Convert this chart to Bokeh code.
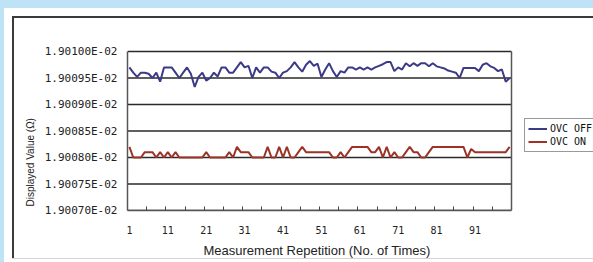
from bokeh.plotting import figure
from bokeh.models import (Range1d, FixedTicker, CustomJSTickFormatter, Legend, LegendItem,
                          Title, GlobalInlineStyleSheet, InlineStyleSheet)
from bokeh.embed import file_html
from bokeh.resources import INLINE

# ---------------- data ----------------
repetition = list(range(1, 101))

ovc_off = [
    1.900970e-02, 1.900960e-02, 1.900952e-02, 1.900960e-02, 1.900960e-02,
    1.900958e-02, 1.900950e-02, 1.900960e-02, 1.900943e-02, 1.900970e-02,
    1.900970e-02, 1.900970e-02, 1.900960e-02, 1.900950e-02, 1.900960e-02,
    1.900970e-02, 1.900958e-02, 1.900933e-02, 1.900952e-02, 1.900960e-02,
    1.900945e-02, 1.900950e-02, 1.900960e-02, 1.900953e-02, 1.900970e-02,
    1.900970e-02, 1.900960e-02, 1.900960e-02, 1.900970e-02, 1.900980e-02,
    1.900970e-02, 1.900973e-02, 1.900950e-02, 1.900970e-02, 1.900960e-02,
    1.900970e-02, 1.900970e-02, 1.900962e-02, 1.900960e-02, 1.900950e-02,
    1.900960e-02, 1.900963e-02, 1.900970e-02, 1.900980e-02, 1.900970e-02,
    1.900962e-02, 1.900975e-02, 1.900982e-02, 1.900973e-02, 1.900977e-02,
    1.900952e-02, 1.900966e-02, 1.900978e-02, 1.900963e-02, 1.900952e-02,
    1.900963e-02, 1.900960e-02, 1.900970e-02, 1.900970e-02, 1.900966e-02,
    1.900970e-02, 1.900966e-02, 1.900970e-02, 1.900966e-02, 1.900970e-02,
    1.900973e-02, 1.900976e-02, 1.900980e-02, 1.900980e-02, 1.900963e-02,
    1.900970e-02, 1.900966e-02, 1.900978e-02, 1.900972e-02, 1.900978e-02,
    1.900973e-02, 1.900978e-02, 1.900978e-02, 1.900972e-02, 1.900978e-02,
    1.900972e-02, 1.900970e-02, 1.900968e-02, 1.900964e-02, 1.900962e-02,
    1.900960e-02, 1.900950e-02, 1.900969e-02, 1.900969e-02, 1.900969e-02,
    1.900969e-02, 1.900963e-02, 1.900975e-02, 1.900978e-02, 1.900972e-02,
    1.900969e-02, 1.900963e-02, 1.900966e-02, 1.900943e-02, 1.900950e-02,
]

ovc_on = [
    1.90082e-02, 1.90080e-02, 1.90080e-02, 1.90080e-02, 1.90081e-02,
    1.90081e-02, 1.90081e-02, 1.90080e-02, 1.90081e-02, 1.90080e-02,
    1.90081e-02, 1.90080e-02, 1.90081e-02, 1.90080e-02, 1.90080e-02,
    1.90080e-02, 1.90080e-02, 1.90080e-02, 1.90080e-02, 1.90080e-02,
    1.90081e-02, 1.90080e-02, 1.90080e-02, 1.90080e-02, 1.90080e-02,
    1.90080e-02, 1.90081e-02, 1.90080e-02, 1.90082e-02, 1.90081e-02,
    1.90081e-02, 1.90081e-02, 1.90080e-02, 1.90080e-02, 1.90080e-02,
    1.90080e-02, 1.90082e-02, 1.90080e-02, 1.90080e-02, 1.90082e-02,
    1.90080e-02, 1.90082e-02, 1.90080e-02, 1.90080e-02, 1.90081e-02,
    1.90082e-02, 1.90081e-02, 1.90081e-02, 1.90081e-02, 1.90081e-02,
    1.90081e-02, 1.90081e-02, 1.90081e-02, 1.90080e-02, 1.90080e-02,
    1.90081e-02, 1.90080e-02, 1.90081e-02, 1.90082e-02, 1.90082e-02,
    1.90082e-02, 1.90082e-02, 1.90082e-02, 1.90081e-02, 1.90081e-02,
    1.90082e-02, 1.90080e-02, 1.90082e-02, 1.90080e-02, 1.90081e-02,
    1.90080e-02, 1.90080e-02, 1.90081e-02, 1.90082e-02, 1.90081e-02,
    1.90081e-02, 1.90080e-02, 1.90080e-02, 1.90081e-02, 1.90082e-02,
    1.90082e-02, 1.90082e-02, 1.90082e-02, 1.90082e-02, 1.90082e-02,
    1.90082e-02, 1.90082e-02, 1.90082e-02, 1.90080e-02, 1.900816e-02,
    1.90081e-02, 1.90081e-02, 1.90081e-02, 1.90081e-02, 1.90081e-02,
    1.90081e-02, 1.90081e-02, 1.90081e-02, 1.90081e-02, 1.90082e-02,
]

y_ticks = [1.90070e-02, 1.90075e-02, 1.90080e-02, 1.90085e-02,
           1.90090e-02, 1.90095e-02, 1.90100e-02]
x_label_ticks = [1, 11, 21, 31, 41, 51, 61, 71, 81, 91]
series_names = ["OVC OFF", "OVC ON"]
x_title = "Measurement Repetition (No. of Times)"
y_title = "Displayed Value (\u03a9)"

# ---------------- layout (pixels) ----------------
W, H = 593, 262
LEFT, PLOT_RIGHT, TOP, BOTTOM = 127, 511, 51, 210   # plot-area box in the page
FRAME_TOP = 49                                      # a little headroom for the top rule

x_lo, x_hi = repetition[0] - 0.5, repetition[-1] + 0.5
y_lo, y_hi = y_ticks[0], y_ticks[-1]
# the bokeh frame runs to the right edge so the legend (outside the plot box) is drawn
x_end = x_lo + (x_hi - x_lo) * (W - LEFT) / (PLOT_RIGHT - LEFT)
y_end = y_lo + (y_hi - y_lo) * (BOTTOM - FRAME_TOP) / (BOTTOM - TOP)

# ---------------- styling ----------------
BLUE = "#3b3a86"
RED = "#9c3326"
MONO = "DejaVu Sans Mono"
SANS = "Liberation Sans"

page_css = GlobalInlineStyleSheet(css="body { background: #bee3f7; }")
host_css = InlineStyleSheet(css=""":host {
  background: #ffffff;
  box-shadow: inset 4px 8px 0 0 #bee3f7, inset 0 -3px 0 0 #ffffff,
              inset 12px 16px 0 0 #ffffff, inset 0 -4px 0 0 #d4d4d4,
              inset 14px 18px 0 0 #3a3a3a;
}""")

p = figure(width=W, height=H, output_backend="svg", toolbar_location=None,
           x_range=Range1d(x_lo, x_end), y_range=Range1d(y_lo, y_end),
           min_border=0, min_border_left=LEFT, min_border_right=0,
           min_border_top=FRAME_TOP, min_border_bottom=H - BOTTOM,
           border_fill_alpha=0, background_fill_alpha=0,
           outline_line_color=None)
p.stylesheets = [page_css, host_css]

# horizontal rules at each y tick, across the plot box only
n = len(y_ticks)
p.segment(x0=[x_lo] * n, y0=y_ticks, x1=[x_hi] * n, y1=y_ticks,
          line_color="#2a2a2a", line_width=1.3)
# right edge of the plot box
p.segment(x0=[x_hi], y0=[y_lo], x1=[x_hi], y1=[y_hi],
          line_color="#555555", line_width=1.5)

r_off = p.line(repetition, ovc_off, line_color=BLUE, line_width=2)
r_on = p.line(repetition, ovc_on, line_color=RED, line_width=2)

# x axis: labels on categories, tick marks between groups of 5
minor_positions = [k + 0.5 for k in range(5, 100, 5)]
p.xaxis.ticker = FixedTicker(ticks=x_label_ticks, minor_ticks=minor_positions)
p.xaxis.bounds = (x_lo, x_hi)
p.xaxis.major_tick_in = 0
p.xaxis.major_tick_out = 0
p.xaxis.minor_tick_in = 4
p.xaxis.minor_tick_out = 0
p.xaxis.minor_tick_line_color = "#444444"
p.xaxis.minor_tick_line_width = 1
p.xaxis.axis_line_color = "#555555"
p.xaxis.axis_line_width = 1.5
p.xaxis.major_label_standoff = 15
p.xaxis.major_label_text_font = MONO
p.xaxis.major_label_text_font_size = "10px"
p.xaxis.major_label_text_color = "#222222"

# y axis
p.yaxis.ticker = FixedTicker(ticks=y_ticks)
p.yaxis.bounds = (y_lo, y_hi)
p.yaxis.formatter = CustomJSTickFormatter(
    code="return tick.toExponential(5).replace('e-2', 'E-02');")
p.yaxis.major_tick_in = 0
p.yaxis.major_tick_out = 0
p.yaxis.minor_tick_in = 0
p.yaxis.minor_tick_out = 0
p.yaxis.axis_line_color = "#555555"
p.yaxis.axis_line_width = 1.5
p.yaxis.major_label_standoff = 10
p.yaxis.major_label_text_font = MONO
p.yaxis.major_label_text_font_size = "11px"
p.yaxis.major_label_text_color = "#222222"

p.xgrid.visible = False
p.ygrid.visible = False

# x axis title, centred under the plot box (not under the wider bokeh frame)
p.add_layout(Title(text=x_title, align="left", offset=203 - LEFT, standoff=9,
                   text_font=SANS, text_font_size="13px",
                   text_font_style="normal", text_color="#222222"), "below")

# y axis title, placed in the left panel, shifted down like the reference
p.add_layout(Title(text=y_title, align="left", offset=4, standoff=11,
                   text_font=SANS, text_font_size="10px",
                   text_font_style="normal", text_color="#222222"), "left")

legend = Legend(items=[LegendItem(label=series_names[0], renderers=[r_off]),
                       LegendItem(label=series_names[1], renderers=[r_on])],
                location=(524 - LEFT, BOTTOM - 152), margin=0, padding=3, spacing=0,
                glyph_width=19, glyph_height=13, label_height=13,
                label_standoff=3, label_text_font=MONO,
                label_text_font_size="10px", label_text_color="#111111",
                border_line_color="#333333", border_line_width=1,
                background_fill_color="white", background_fill_alpha=1)
p.add_layout(legend)

open("out.html", "w").write(file_html(p, INLINE))
